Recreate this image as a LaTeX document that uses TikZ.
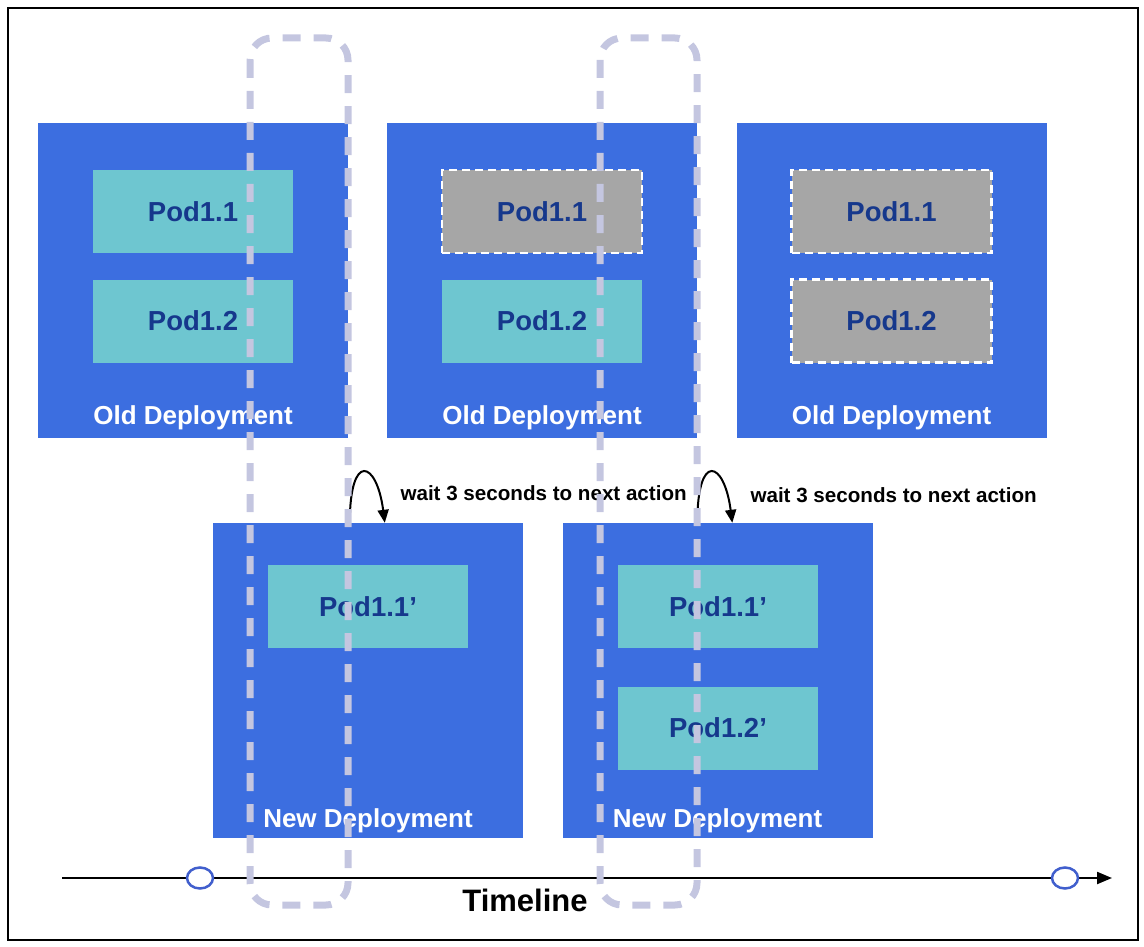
\documentclass[tikz,border=0pt]{standalone}
\usepackage{fontspec}
\setmainfont{Liberation Sans}
\usetikzlibrary{arrows.meta}
\usetikzlibrary{shapes.geometric}
\definecolor{deplblue}{RGB}{60,110,224}
\definecolor{podteal}{RGB}{110,198,208}
\definecolor{podgray}{RGB}{166,166,166}
\definecolor{podtext}{RGB}{22,56,140}
\definecolor{lavender}{RGB}{196,198,224}
\definecolor{ringblue}{RGB}{65,95,205}
\tikzset{
  deploy/.style={fill=deplblue, minimum width=310, minimum height=315, inner sep=0},
  pod/.style={fill=podteal, minimum width=200, minimum height=83, inner sep=0,
    text=podtext, font=\fontsize{27.5}{32}\selectfont\bfseries},
  oldpod/.style={pod, fill=podgray, draw=white, line width=2.5, dash pattern=on 8 off 5},
  deplabel/.style={text=white, font=\fontsize{26}{30}\selectfont\bfseries},
  waitlabel/.style={anchor=west, font=\fontsize{20.6}{24}\selectfont\bfseries},
  window/.style={draw=lavender, line width=7, rounded corners=22, dash pattern=on 18 off 13},
  tick/.style={ellipse, draw=ringblue, fill=white, line width=2.5,
    minimum width=26, minimum height=21, inner sep=0},
}

\begin{document}
\begin{tikzpicture}[x=1pt, y=-1pt]
      \useasboundingbox (0,0) rectangle (1144,947);
      \draw[line width=2.5] (8,8) rectangle (1138,940);

      % old deployments
      \node[deploy] (old1) at (193,280.5) {};
      \node[deploy] (old2) at (542,280.5) {};
      \node[deploy] (old3) at (891.5,280.5) {};

      \node[pod] (p11a) at (193,211.5) {Pod1.1};
      \node[pod] (p12a) at (193,321) {Pod1.2};
      \node[oldpod] (p11b) at (542,211.5) {Pod1.1};
      \node[pod] (p12b) at (542,321) {Pod1.2};
      \node[oldpod] (p11c) at (891.5,211.5) {Pod1.1};
      \node[oldpod] (p12c) at (891.5,321) {Pod1.2};

      \foreach \d in {old1,old2,old3}
        \node[deplabel] at ([yshift=20]\d.south) {Old Deployment};

      % new deployments
      \node[deploy] (new1) at (368,680.5) {};
      \node[deploy] (new2) at (717.5,680.5) {};

      \node[pod] (q11a) at (368,606.5) {Pod1.1'};
      \node[pod] (q11b) at (718,606.5) {Pod1.1'};
      \node[pod] (q12b) at (718,728) {Pod1.2'};

      \foreach \d in {new1,new2}
        \node[deplabel] at ([yshift=17]\d.south) {New Deployment};

      % waits
      \coordinate (w1s) at ([xshift=137]new1.north west);
      \coordinate (w1e) at ([xshift=172]new1.north west);
      \coordinate (w2s) at ([xshift=135]new2.north west);
      \coordinate (w2e) at ([xshift=170]new2.north west);
      \draw[line width=2, -{Triangle[length=13,width=11]}]
        (w1s) .. controls ([yshift=72]w1s) and ([xshift=-8,yshift=62]w1e) .. (w1e);
      \draw[line width=2, -{Triangle[length=13,width=11]}]
        (w2s) .. controls ([yshift=72]w2s) and ([xshift=-8,yshift=62]w2e) .. (w2e);
      \node[waitlabel] (wait1) at (397,493) {wait 3 seconds to next action};
      \node[waitlabel] (wait2) at (747,495) {wait 3 seconds to next action};

      % timeline
      \coordinate (tstart) at (62,878);
      \coordinate (tend) at (1112,878);
      \draw[line width=2.2, -{Triangle[length=15,width=12]}] (tstart) -- (tend);
      \node[tick] (t0) at (200,878) {};
      \node[tick] (t1) at (1065,878) {};
      \node[font=\fontsize{31}{35}\selectfont\bfseries] (tl) at (525,900) {Timeline};

      % rolling windows
      \draw[window] (250,38) rectangle (348,905);
      \draw[window] (600,38) rectangle (697,905);
\end{tikzpicture}
\end{document}
